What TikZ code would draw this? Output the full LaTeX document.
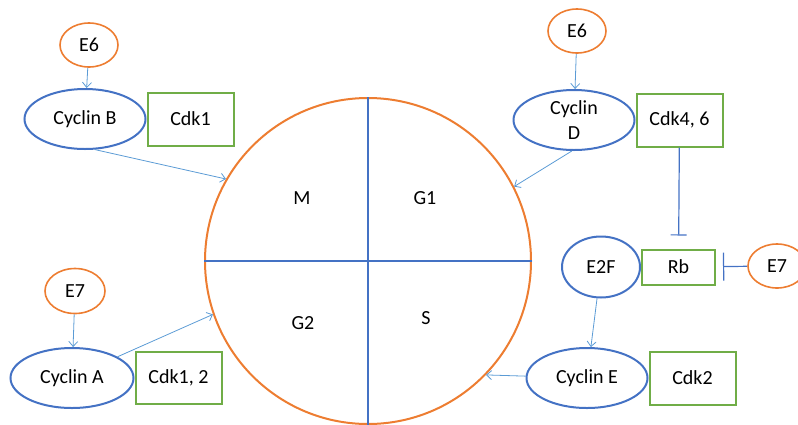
\documentclass[tikz,border=0pt]{standalone}
\usepackage{fontspec}
\setmainfont{Carlito}
\usetikzlibrary{shapes.geometric,arrows.meta}
\usetikzlibrary{positioning}
\definecolor{offorange}{HTML}{ED7D31}
\definecolor{offblue}{HTML}{4472C4}
\definecolor{lightblue}{HTML}{5B9BD5}
\definecolor{offgreen}{HTML}{70AD47}
\tikzset{cyclin/.style={draw=offblue, ellipse, line width=2pt, inner sep=0pt, minimum width=121pt, minimum height=60pt, align=center}}
\tikzset{cdk/.style={draw=offgreen, rectangle, line width=2pt, inner sep=0pt, minimum width=86pt, minimum height=53pt}}
\tikzset{virus/.style={draw=offorange, ellipse, line width=1.6pt, inner sep=0pt, minimum width=58pt, minimum height=44pt}}
\tikzset{act/.style={draw=lightblue, line width=0.8pt, -{Straight Barb[length=5pt,width=9pt]}}}
\tikzset{inhib/.style={draw=offblue, line width=1.2pt}}

\begin{document}
\begin{tikzpicture}[x=1pt, y=-1pt, font=\fontsize{20}{25}\selectfont]
		\useasboundingbox (0,0) rectangle (798,424);
		% cell cycle
		\node[draw=offorange, circle, line width=2pt, minimum size=326pt, inner sep=0pt] (cell) at (368,261) {};
		\draw[inhib] (cell.north) -- (cell.south);
		\draw[inhib] (cell.west) -- (cell.east);
		\node (M) at (302,198) {M};
		\node (G1) at (425,198) {G1};
		\node (G2) at (303,323) {G2};
		\node (S) at (426,318) {S};
		
		% cyclins and cdks
		\node[virus] (e6a) at (89,45) {E6};
		\node[cyclin] (cycB) at (85,119) {Cyclin B};
		\node[cdk] (cdk1) [right=0pt of cycB] {Cdk1};
		
		\node[virus] (e6b) at (577,31) {E6};
		\node[cyclin] (cycD) at (574,120) {Cyclin\\D};
		\node[cdk] (cdk46) [right=0pt of cycD] {Cdk4, 6};
		
		\node[cyclin, minimum width=78pt, minimum height=61pt] (e2f) at (601,267) {E2F};
		\node[cdk, minimum width=73pt, minimum height=35pt] (rb) [right=0pt of e2f] {Rb};
		\node[virus] (e7b) at (777,266) {E7};
		
		\node[cyclin] (cycE) at (587,378) {Cyclin E};
		\node[cdk] (cdk2) [right=0pt of cycE] {Cdk2};
		
		\node[virus, minimum width=60pt, minimum height=45pt] (e7a) at (75,291) {E7};
		\node[cyclin, minimum width=123pt] (cycA) at (72,378) {Cyclin A};
		\node[cdk, minimum height=52pt] (cdk12) [right=0pt of cycA] {Cdk1, 2};
		
		% connections
		\draw[act] (e6a) -- (cycB);
		\draw[act] (cycB.288) -- (cell.150);
		\draw[act] (e6b) -- (cycD);
		\draw[act] (cycD.266) -- (cell.27);
		\draw[inhib, -{Bar[width=16pt]}, shorten >=13pt] (cdk46) -- (rb);
		\draw[inhib, -{Bar[width=28pt]}, shorten >=7pt] (e7b) -- (rb);
		\draw[act] (e2f) -- (cycE);
		\draw[act] (cycE) -- (cell.316);
		\draw[act] (e7a) -- (cycA);
		\draw[act] (cycA.25) -- (cell.199);
	\end{tikzpicture}
\end{document}
